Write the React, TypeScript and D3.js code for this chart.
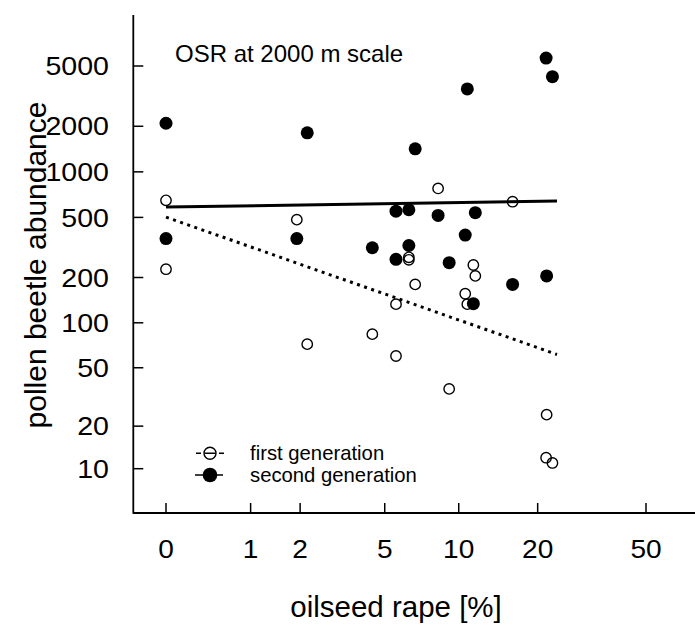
import React from "react";
import * as d3 from "d3";

// landscape oilseed rape cover [%]
const osrPercent = [0, 0, 1.92, 2.18, 4.42, 5.58, 5.58, 6.31, 6.31, 6.7, 8.29, 9.17, 10.6, 10.8, 11.4, 11.6, 16.1, 21.5, 21.6, 22.7];
const firstGeneration = [648, 227, 483, 72, 84, 133, 60, 272, 262, 180, 777, 36, 156, 133, 242, 205, 635, 12, 24, 11];
const secondGeneration = [2094, 362, 362, 1810, 315, 550, 264, 562, 326, 1420, 515, 251, 382, 3530, 134, 537, 180, 5640, 205, 4250];
const firstFitX = [0, 23.6];
const firstFitY = [502, 61.4];
const secondFitX = [0, 23.6];
const secondFitY = [585, 641];
const xTicks = [0, 1, 2, 5, 10, 20, 50];
const yTicks = [10, 20, 50, 100, 200, 500, 1000, 2000, 5000];
const titleText = "OSR at 2000 m scale";
const xLabel = "oilseed rape [%]";
const yLabel = "pollen beetle abundance";
const legendLabels = ["first generation", "second generation"];

const FONT = "'Liberation Sans', Arial, Helvetica, sans-serif";
const lg = (v: number) => Math.log10(v + 1);

export default function App() {
  const W = 695, H = 627;
  const x = d3.scaleLinear().domain([lg(0), lg(50)]).range([166, 646]);
  const y = d3.scaleLinear().domain([lg(10), lg(5000)]).range([468.7, 66]);
  const axisLeft = 133.3, axisBottom = 513, axisTop = 15, axisRight = 695;
  const line = d3.line<[number, number]>().x(d => x(lg(d[0]))).y(d => y(lg(d[1])));
  const firstFit = line(firstFitX.map((v, i) => [v, firstFitY[i]] as [number, number]));
  const secondFit = line(secondFitX.map((v, i) => [v, secondFitY[i]] as [number, number]));

  return (
    <svg width={W} height={H} style={{ position: "absolute", left: 0, top: 0, background: "#fff" }} fontFamily={FONT}>
      <rect width={W} height={H} fill="#fff" />
      {/* axes */}
      <line x1={axisLeft} x2={axisLeft} y1={axisTop} y2={axisBottom + 0.8} stroke="#000" strokeWidth={1.8} />
      <line x1={axisLeft} x2={axisRight} y1={axisBottom} y2={axisBottom} stroke="#000" strokeWidth={1.8} />
      {yTicks.map(t => (
        <g key={"y" + t}>
          <line x1={axisLeft} x2={axisLeft + 10} y1={y(lg(t))} y2={y(lg(t))} stroke="#000" strokeWidth={1.5} />
          <text transform={`translate(109,${y(lg(t))}) scale(1.12,1)`} dy="0.36em" textAnchor="end" fontSize={25.5} fill="#000">{t}</text>
        </g>
      ))}
      {xTicks.map(t => (
        <g key={"x" + t}>
          <line x1={x(lg(t))} x2={x(lg(t))} y1={axisBottom - 10} y2={axisBottom} stroke="#000" strokeWidth={1.5} />
          <text transform={`translate(${x(lg(t))},558) scale(1.06,1)`} textAnchor="middle" fontSize={26.5} fill="#000">{t}</text>
        </g>
      ))}
      <text x={396} y={617} textAnchor="middle" fontSize={29.5} fill="#000">{xLabel}</text>
      <text transform={`translate(46,265) rotate(-90)`} textAnchor="middle" fontSize={30} fill="#000">{yLabel}</text>
      <text x={175} y={62} fontSize={24} fill="#000">{titleText}</text>

      {/* fits */}
      <path d={secondFit || ""} fill="none" stroke="#000" strokeWidth={3} />
      <path d={firstFit || ""} fill="none" stroke="#000" strokeWidth={3} strokeDasharray="3,4.5" />

      {/* points */}
      {osrPercent.map((v, i) => (
        <circle key={"s" + i} cx={x(lg(v))} cy={y(lg(secondGeneration[i]))} r={6.5} fill="#000" />
      ))}
      {osrPercent.map((v, i) => (
        <circle key={"f" + i} cx={x(lg(v))} cy={y(lg(firstGeneration[i]))} r={5.2} fill="none" stroke="#000" strokeWidth={1.4} />
      ))}

      {/* legend */}
      <g>
        <line x1={196} x2={224} y1={453.3} y2={453.3} stroke="#000" strokeWidth={1.5} strokeDasharray="5,3.5,11,3.5,5" />
        <circle cx={210} cy={453.3} r={6} fill="none" stroke="#000" strokeWidth={1.4} />
        <text x={250} y={460} fontSize={20.3} fill="#000">{legendLabels[0]}</text>
        <line x1={195} x2={223} y1={475} y2={475} stroke="#000" strokeWidth={1.5} />
        <circle cx={210} cy={475} r={7.3} fill="#000" />
        <text x={250} y={482} fontSize={20.3} fill="#000">{legendLabels[1]}</text>
      </g>
    </svg>
  );
}
